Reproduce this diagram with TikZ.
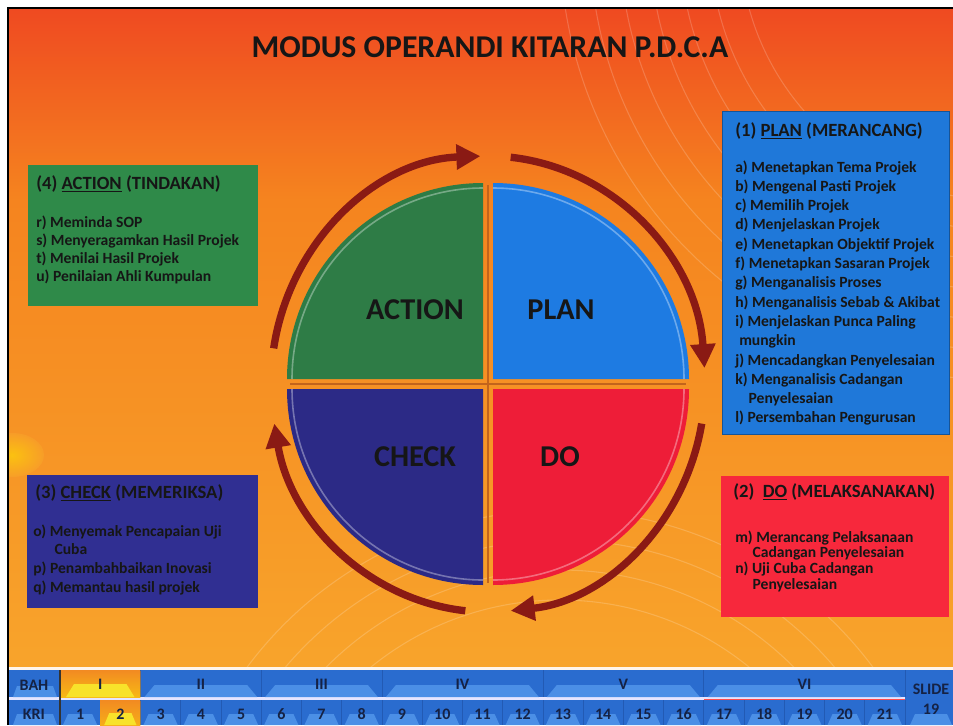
\documentclass[tikz,border=0pt]{standalone}
\usepackage{fontspec}
\setmainfont{Carlito}
\usetikzlibrary{arrows.meta,calc}
\definecolor{bgA}{HTML}{EF4A21}
\definecolor{bgB}{HTML}{F5841F}
\definecolor{bgC}{HTML}{F8A42B}
\definecolor{actgreen}{HTML}{2F8A49}
\definecolor{qgreen}{HTML}{2E7C46}
\definecolor{planblue}{HTML}{1F78D9}
\definecolor{qblue}{HTML}{1E7BE2}
\definecolor{dored}{HTML}{F7283C}
\definecolor{qred}{HTML}{EE1D38}
\definecolor{chkblue}{HTML}{302F92}
\definecolor{qchk}{HTML}{2C2A86}
\definecolor{arrowred}{HTML}{8A1A14}
\definecolor{crossline}{HTML}{C2641C}
\definecolor{barblue}{HTML}{2A6CCF}
\definecolor{barlight}{HTML}{4B8FE6}
\definecolor{barline}{HTML}{1C4A9A}
\definecolor{cellorange}{HTML}{F28A22}
\definecolor{cellyellow}{HTML}{F8E22A}
\definecolor{textdark}{HTML}{161616}
\definecolor{navytext}{HTML}{152244}
\tikzset{
  boxtitle/.style={anchor=base west, inner sep=0pt, font=\fontsize{14}{16}\selectfont\bfseries, text=textdark},
  boxitem/.style={anchor=base west, inner sep=0pt, font=\fontsize{11.7}{13}\selectfont\bfseries, text=textdark},
  quadlabel/.style={inner sep=0pt, font=\fontsize{22.7}{26}\selectfont\bfseries, text=textdark},
  cyclearrow/.style={draw=arrowred, line width=5.5pt, -{Triangle[length=18pt,width=18pt]}},
  bartext/.style={inner sep=0pt, font=\fontsize{12}{13}\selectfont\bfseries, text=navytext},
  bgarc/.style={draw=white, opacity=0.18, line width=0.8pt},
}
\begin{document}
\begin{tikzpicture}[x=0.75pt,y=-0.75pt]
\useasboundingbox (0,0) rectangle (953,725);
\fill[white] (0,0) rectangle (953,725);
% background
\shade[top color=bgA, bottom color=bgB] (9,9) rectangle (953,200);
\shade[top color=bgB, bottom color=bgC] (9,200) rectangle (953,668);
\begin{scope}
\clip (9,9) rectangle (953,668);
\shade[inner color=yellow!80!orange, outer color=bgC, opacity=0.55] (12,455) ellipse (32 and 22);
\foreach \r in {260,290,320,350,380,410,440}{
  \draw[bgarc] (1000,-60) circle (\r);
}
\foreach \r in {300,330,360,390}{
  \draw[bgarc] (560,900) circle (\r);
}
\end{scope}
\draw[black, line width=1.2pt] (8,725) -- (8,8) -- (953,8);
% title
\node[font=\fontsize{23.8}{28}\selectfont\bfseries, text=textdark] (title) at (490,47) {MODUS OPERANDI KITARAN P.D.C.A};
% cross in the gap
\draw[crossline, line width=2.2pt] (290,384) -- (686,384);
\draw[crossline, line width=2.2pt] (488,185) -- (488,583);
% quadrants
\fill[qblue] (493,379) -- ++(0:196) arc[start angle=0, end angle=-90, radius=196] -- cycle;
\fill[qgreen] (483,379) -- ++(-90:196) arc[start angle=-90, end angle=-180, radius=196] -- cycle;
\fill[qchk] (483,389) -- ++(180:196) arc[start angle=180, end angle=90, radius=196] -- cycle;
\fill[qred] (493,389) -- ++(90:196) arc[start angle=90, end angle=0, radius=196] -- cycle;
\draw[white, opacity=0.35, line width=1.2pt] (493,379) ++(0:191) arc[start angle=0, end angle=-90, radius=191];
\draw[white, opacity=0.35, line width=1.2pt] (483,379) ++(-90:191) arc[start angle=-90, end angle=-180, radius=191];
\draw[white, opacity=0.35, line width=1.2pt] (483,389) ++(180:191) arc[start angle=180, end angle=90, radius=191];
\draw[white, opacity=0.35, line width=1.2pt] (493,389) ++(90:191) arc[start angle=90, end angle=0, radius=191];
\node[quadlabel] (qaction) at (415,310) {ACTION};
\node[quadlabel] (qplan) at (561,310) {PLAN};
\node[quadlabel] (qcheck) at (415,457) {CHECK};
\node[quadlabel] (qdo) at (560,457) {DO};
% cycle arrows
\coordinate (cc) at (488,384);
\draw[cyclearrow] (cc) ++(-171:217 and 228) arc[start angle=-171, end angle=-92, x radius=217, y radius=228];
\draw[cyclearrow] (cc) ++(-84:217 and 228) arc[start angle=-84, end angle=-4, x radius=217, y radius=228];
\draw[cyclearrow] (cc) ++(10:217 and 228) arc[start angle=10, end angle=84, x radius=217, y radius=228];
\draw[cyclearrow] (cc) ++(96:217 and 228) arc[start angle=96, end angle=170, x radius=217, y radius=228];
% ACTION box
\fill[actgreen] (28,165) rectangle (258,306);
\node[boxtitle] (acttitle) at (36,189) {(4) \underline{ACTION} (TINDAKAN)};
\foreach \t [count=\i] in {{r) Meminda SOP},{s) Menyeragamkan Hasil Projek},{t) Menilai Hasil Projek},{u) Penilaian Ahli Kumpulan}}{
  \node[boxitem] (act\i) at (36,{227+18.3*(\i-1)}) {\t};
}
% PLAN box
\fill[planblue] (722,111) rectangle (949,434);
\draw[planblue!70!black, line width=0.6pt] (722,111) rectangle (949,434);
\node[boxtitle] (plantitle) at (735,136) {(1) \underline{PLAN} (MERANCANG)};
\foreach \t [count=\i] in {{a) Menetapkan Tema Projek},{b) Mengenal Pasti Projek},{c) Memilih Projek},{d) Menjelaskan Projek},{e) Menetapkan Objektif Projek},{f) Menetapkan Sasaran Projek},{g) Menganalisis Proses},{h) Menganalisis Sebab \& Akibat},{i) Menjelaskan Punca Paling},{\hspace*{3pt}mungkin},{j) Mencadangkan Penyelesaian},{k) Menganalisis Cadangan},{\hspace*{10pt}Penyelesaian},{l) Persembahan Pengurusan}}{
  \node[boxitem] (plan\i) at (735,{172+19.3*(\i-1)}) {\t};
}
% DO box
\fill[dored] (721,476) rectangle (949,617);
\node[boxtitle] (dotitle) at (733,497) {(2)\ \ \underline{DO} (MELAKSANAKAN)};
\foreach \t [count=\i] in {{m) Merancang Pelaksanaan},{\hspace*{13pt}Cadangan Penyelesaian},{n) Uji Cuba Cadangan},{\hspace*{13pt}Penyelesaian}}{
  \node[boxitem] (do\i) at (735,{542+15.7*(\i-1)}) {\t};
}
% CHECK box
\fill[chkblue] (27,475) rectangle (258,608);
\node[boxtitle] (chktitle) at (35,498) {(3) \underline{CHECK} (MEMERIKSA)};
\foreach \t [count=\i] in {{o) Menyemak Pencapaian Uji},{\hspace*{16pt}Cuba},{p) Penambahbaikan Inovasi},{q) Memantau hasil projek}}{
  \node[boxitem] (chk\i) at (33,{536+18.7*(\i-1)}) {\t};
}
% bottom bar
\fill[white!92!orange] (9,667) rectangle (953,670);
\fill[barblue] (9,670) rectangle (953,725);
\fill[white!90!blue] (9,697) rectangle (905,700);
\draw[red!70, line width=0.6pt] (704,699) -- (905,699);
% BAH / KRI label cells
\fill[barlight] (13,697) -- (17,686) -- (53,686) -- (57,697) -- cycle;
\fill[barlight] (13,725) -- (17,714) -- (53,714) -- (57,725) -- cycle;
\node[bartext] (bah) at (34,685) {BAH};
\node[bartext] (kri) at (34,714) {KRI};
% KRI cells
\foreach \i in {1,...,21}{
  \pgfmathsetmacro\xa{60+40.238*(\i-1)}
  \pgfmathsetmacro\xb{60+40.238*\i}
  \ifnum\i=2
    \shade[top color=cellorange, bottom color=cellorange!70!yellow] (\xa,700) rectangle (\xb,725);
    \fill[cellyellow] (\xa+4,725) -- (\xa+9,713) -- (\xb-9,713) -- (\xb-4,725) -- cycle;
  \else
    \fill[barlight] (\xa+3,725) -- (\xa+8,714) -- (\xb-8,714) -- (\xb-3,725) -- cycle;
  \fi
  \draw[barline, opacity=0.5, line width=0.5pt] (\xb,700) -- (\xb,725);
  \node[bartext] (kri\i) at ({(\xa+\xb)/2},714) {\i};
}
% BAH groups
\foreach \s/\e/\l [count=\k] in {1/2/I,3/5/II,6/8/III,9/12/IV,13/16/V,17/21/VI}{
  \pgfmathsetmacro\xa{60+40.238*(\s-1)}
  \pgfmathsetmacro\xb{60+40.238*\e}
  \ifnum\k=1
    \shade[top color=cellorange, bottom color=cellorange!60!yellow] (\xa,670) rectangle (\xb,697);
    \fill[cellyellow] (\xa+6,697) -- (\xa+14,684) -- (\xb-14,684) -- (\xb-6,697) -- cycle;
  \else
    \fill[barlight] (\xa+4,697) -- (\xa+14,685) -- (\xb-14,685) -- (\xb-4,697) -- cycle;
  \fi
  \draw[barline, opacity=0.5, line width=0.5pt] (\xb,670) -- (\xb,697);
  \node[bartext] (bah\k) at ({(\xa+\xb)/2},684) {\l};
}
\draw[black!80, line width=0.9pt] (60,670) -- (60,725);
% slide column
\fill[barlight] (910,725) -- (915,714) -- (947,714) -- (952,725) -- cycle;
\node[bartext] (slide) at (931,689) {SLIDE};
\node[bartext] (slidenum) at (931,709) {19};
\end{tikzpicture}
\end{document}
